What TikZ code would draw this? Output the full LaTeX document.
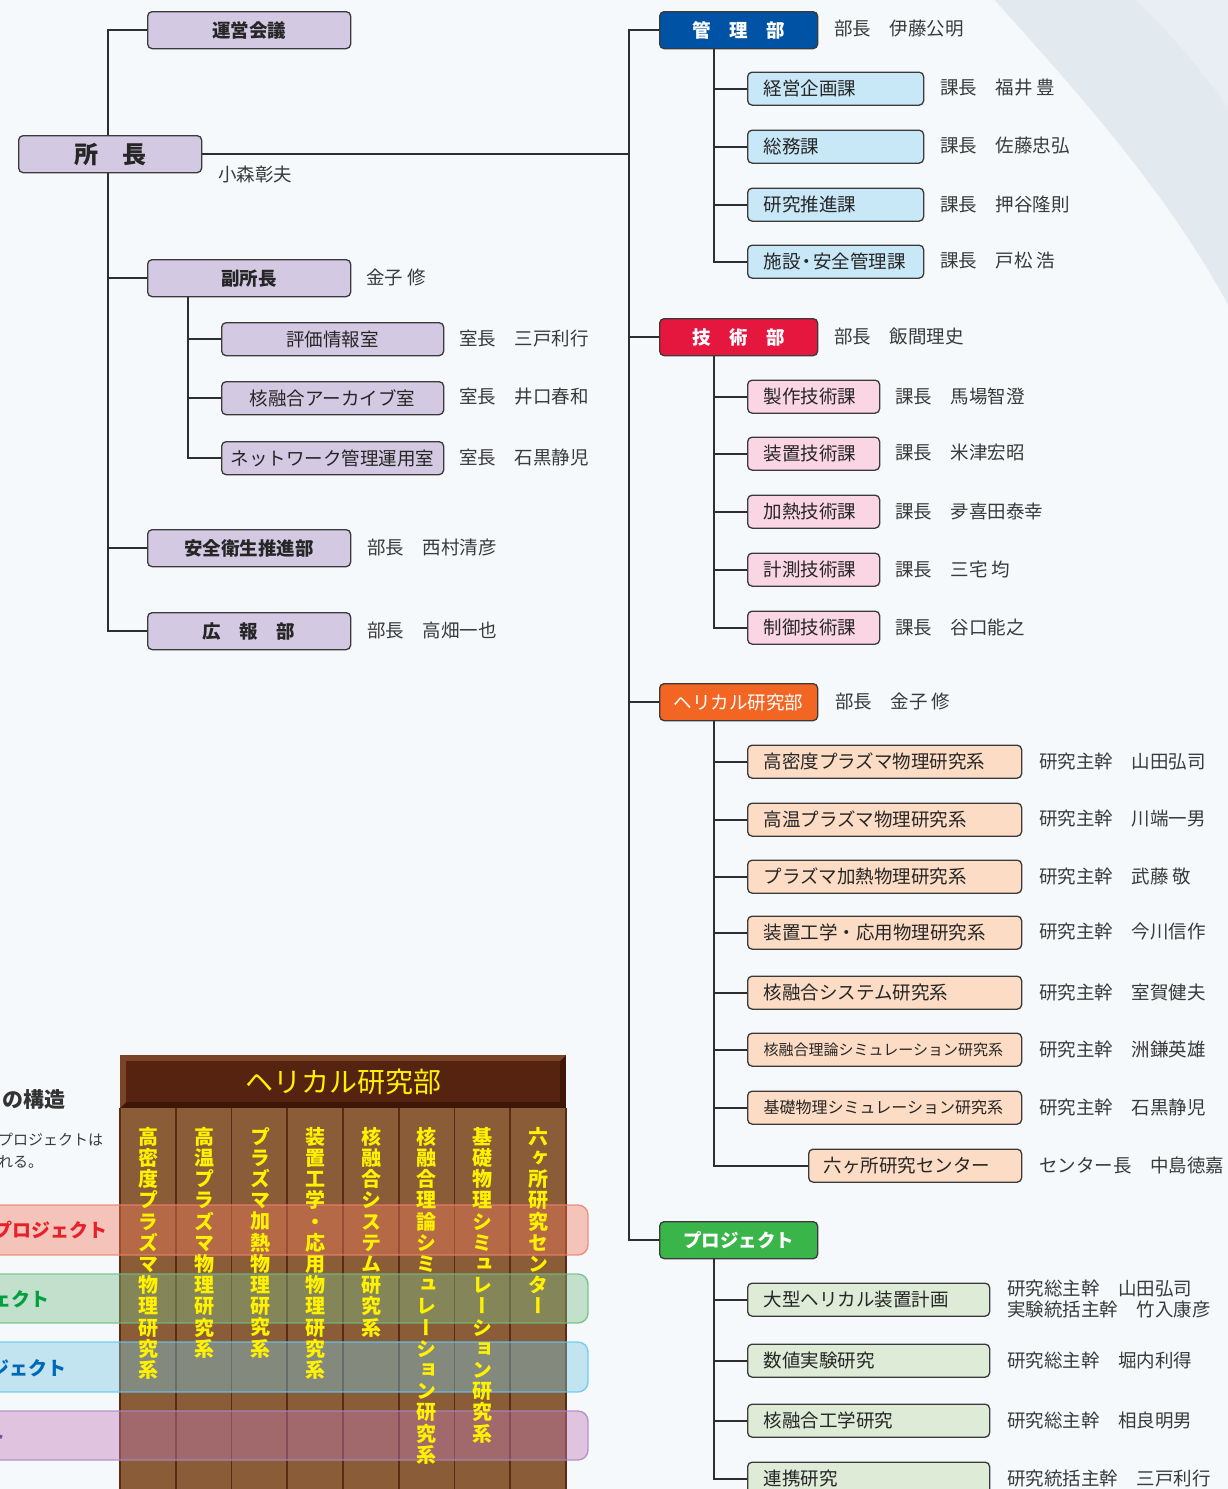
\documentclass[tikz,border=0pt]{standalone}
\usepackage{fontspec}
\setmainfont{Noto Sans CJK JP}
\newfontfamily\vjp{Noto Sans CJK JP}[RawFeature=+vert]
\usetikzlibrary{backgrounds,calc}
\newcommand\myfs[1]{\fontsize{#1}{#1}\selectfont}
\definecolor{bgc}{HTML}{F5F9FC}
\definecolor{swA}{HTML}{E2E9EF}
\definecolor{swB}{HTML}{E8EEF3}
\definecolor{linec}{HTML}{2E2E2E}
\definecolor{bord}{HTML}{3A3A3A}
\definecolor{namec}{HTML}{3A3A3A}
\definecolor{lav}{HTML}{D4C9E3}
\definecolor{kanric}{HTML}{0053A4}
\definecolor{gijc}{HTML}{E5173F}
\definecolor{helc}{HTML}{F26522}
\definecolor{projc}{HTML}{3AB54A}
\definecolor{lblue}{HTML}{C8E8F8}
\definecolor{lpink}{HTML}{FAD5E4}
\definecolor{lpeach}{HTML}{FCDCC4}
\definecolor{lgreen}{HTML}{DDEBD7}
\definecolor{hdrA}{HTML}{3F1709}
\definecolor{hdrB}{HTML}{7A4527}
\definecolor{hdrC}{HTML}{55230F}
\definecolor{colb}{HTML}{8A5C37}
\definecolor{divc}{HTML}{5A2C16}
\definecolor{yel}{HTML}{FFF100}
\definecolor{bandR}{RGB}{243,124,95}
\definecolor{bandG}{RGB}{124,190,136}
\definecolor{bandB}{RGB}{124,200,226}
\definecolor{bandP}{RGB}{195,124,183}
\definecolor{bordR}{RGB}{238,130,110}
\definecolor{bordG}{RGB}{110,190,130}
\definecolor{bordB}{RGB}{100,200,240}
\definecolor{bordP}{RGB}{170,135,195}
\definecolor{txR}{HTML}{E8202A}
\definecolor{txG}{HTML}{00A040}
\definecolor{txB}{HTML}{0068B7}
\definecolor{txP}{HTML}{7D4C9C}
\tikzset{
  base/.style={draw=bord, line width=1.3pt, rounded corners=4.5pt, inner sep=0pt, anchor=north west, font=\myfs{18.5}, text=black!85},
  lbox/.style={base, fill=lav, minimum width=203pt, minimum height=37pt, font=\myfs{18.5}\bfseries},
  lsub/.style={base, fill=lav, minimum width=222pt, minimum height=33pt},
  hbox/.style={base, minimum width=158pt, minimum height=37pt, text=white, font=\myfs{18.5}\bfseries},
  rsub/.style={base, inner xsep=16pt, inner ysep=0pt, minimum height=33pt, align=left, text width=#1},
  nm/.style={anchor=west, inner sep=0pt, text=namec, font=\myfs{18.5}},
  conn/.style={draw=linec, line width=2pt},
  vcol/.style={anchor=north, inner sep=0pt, align=center, text=yel, font=\vjp\bfseries\fontsize{20}{21.2}\selectfont},
  band/.style={fill opacity=0.42, line width=1.4pt, draw opacity=0.85, rounded corners=10pt},
}
\begin{document}
\begin{tikzpicture}[x=1pt,y=-1pt]
\useasboundingbox (0,0) rectangle (1227,1489);
% ---------- left tree ----------
\node[lbox] (unei) at (147,11) {運営会議};
\node[base, fill=lav, minimum width=183pt, minimum height=37pt, font=\myfs{24}\bfseries] (shocho) at (18,135) {所　長};
\node[nm] (shochoN) at (218,174) {小森彰夫};
\node[lbox] (fuku) at (147,259) {副所長};
\node[nm] (fukuN) at (366,277) {金子 修};
\node[lsub] (hyoka) at (221,322) {評価情報室};
\node[lsub] (archive) at (221,381) {核融合アーカイブ室};
\node[lsub] (network) at (221,441) {ネットワーク管理運用室};
\node[nm] (hyokaN) at (459,338) {室長　三戸利行};
\node[nm] (archiveN) at (459,397) {室長　井口春和};
\node[nm] (networkN) at (459,457) {室長　石黒静児};
\node[lbox] (anzen) at (147,529) {安全衛生推進部};
\node[nm] (anzenN) at (367,547) {部長　西村清彦};
\node[lbox] (kouhou) at (147,612) {広　報　部};
\node[nm] (kouhouN) at (367,630) {部長　高畑一也};
% ---------- right tree ----------
\node[hbox, fill=kanric] (kanri) at (659,11) {管　理　部};
\node[nm] (kanriN) at (834,29) {部長　伊藤公明};
\node[rsub=144pt, fill=lblue] (keiei) at (747,71.5) {経営企画課};
\node[rsub=144pt, fill=lblue] (soumu) at (747,129.5) {総務課};
\node[rsub=144pt, fill=lblue] (suishin) at (747,187.5) {研究推進課};
\node[rsub=144pt, fill=lblue] (shisetsu) at (747,244.5) {施設{\kern-3pt}・{\kern-3pt}安全管理課};
\node[nm] (keieiN) at (940,88) {課長　福井 豊};
\node[nm] (soumuN) at (940,146) {課長　佐藤忠弘};
\node[nm] (suishinN) at (940,204) {課長　押谷隆則};
\node[nm] (shisetsuN) at (940,261) {課長　戸松 浩};

\node[hbox, fill=gijc] (gijutsu) at (659,318) {技　術　部};
\node[nm] (gijutsuN) at (834,336) {部長　飯間理史};
\node[rsub=100pt, fill=lpink] (seisaku) at (747,379.5) {製作技術課};
\node[rsub=100pt, fill=lpink] (souchi) at (747,436.5) {装置技術課};
\node[rsub=100pt, fill=lpink] (kanetsu) at (747,494.5) {加熱技術課};
\node[rsub=100pt, fill=lpink] (keisoku) at (747,552.5) {計測技術課};
\node[rsub=100pt, fill=lpink] (seigyo) at (747,610.5) {制御技術課};
\node[nm] (seisakuN) at (895,396) {課長　馬場智澄};
\node[nm] (souchiN) at (895,453) {課長　米津宏昭};
\node[nm] (kanetsuN) at (895,511) {課長　夛喜田泰幸};
\node[nm] (keisokuN) at (895,569) {課長　三宅 均};
\node[nm] (seigyoN) at (895,627) {課長　谷口能之};

\node[hbox, fill=helc, font=\myfs{18.5}] (helical) at (659,683) {ヘリカル研究部};
\node[nm] (helicalN) at (835,701) {部長　金子 修};
\node[rsub=242pt, fill=lpeach] (h1) at (747,744.5) {高密度プラズマ物理研究系};
\node[rsub=242pt, fill=lpeach] (h2) at (747,802.5) {高温プラズマ物理研究系};
\node[rsub=242pt, fill=lpeach] (h3) at (747,859.5) {プラズマ加熱物理研究系};
\node[rsub=242pt, fill=lpeach] (h4) at (747,915.5) {装置工学・応用物理研究系};
\node[rsub=242pt, fill=lpeach] (h5) at (747,975.5) {核融合システム研究系};
\node[rsub=242pt, fill=lpeach, font=\myfs{15}] (h6) at (747,1032.5) {核融合理論シミュレーション研究系};
\node[rsub=242pt, fill=lpeach, font=\myfs{16}] (h7) at (747,1090.5) {基礎物理シミュレーション研究系};
\node[rsub=183pt, fill=lpeach, inner xsep=15pt] (rokkasho) at (808,1148.5) {六ヶ所研究センター};
\node[nm] (h1N) at (1039,761) {研究主幹　山田弘司};
\node[nm] (h2N) at (1039,819) {研究主幹　川端一男};
\node[nm] (h3N) at (1039,876) {研究主幹　武藤 敬};
\node[nm] (h4N) at (1039,932) {研究主幹　今川信作};
\node[nm] (h5N) at (1039,992) {研究主幹　室賀健夫};
\node[nm] (h6N) at (1039,1049) {研究主幹　洲鎌英雄};
\node[nm] (h7N) at (1039,1107) {研究主幹　石黒静児};
\node[nm] (rokkashoN) at (1039,1165) {センター長　中島徳嘉};

\node[hbox, fill=projc] (proj) at (659,1221) {プロジェクト};
\node[rsub=210pt, fill=lgreen] (p1) at (747,1282.5) {大型ヘリカル装置計画};
\node[rsub=210pt, fill=lgreen] (p2) at (747,1343.5) {数値実験研究};
\node[rsub=210pt, fill=lgreen] (p3) at (747,1403.5) {核融合工学研究};
\node[rsub=210pt, fill=lgreen] (p4) at (747,1461.5) {連携研究};
\node[nm, align=left, font=\fontsize{18.5}{21}\selectfont] (p1N) at (1007,1299) {研究総主幹　山田弘司\\実験統括主幹　竹入康彦};
\node[nm] (p2N) at (1007,1360) {研究総主幹　堀内利得};
\node[nm] (p3N) at (1007,1420) {研究総主幹　相良明男};
\node[nm] (p4N) at (1007,1478) {研究統括主幹　三戸利行};

% ---------- bottom-left matrix ----------
\fill[hdrA] (120,1055) rectangle (566,1108);
\fill[hdrB] (120,1055) -- (566,1055) -- (560,1061) -- (126,1061) -- (126,1102) -- (120,1108) -- cycle;
\fill[hdrC] (126,1061) rectangle (560,1102);
\node[inner sep=0pt, text=yel, font=\myfs{28}] (hdr) at (343,1082) {ヘリカル研究部};
\fill[colb] (120,1108) rectangle (566,1520);
\foreach \i in {0,...,8} \draw[divc, line width=1.6pt] ({120+\i*55.75},1108) -- ++(0,420);
\path[band, fill=bandR, draw=bordR] (-40,1205) rectangle (588,1255);
\path[band, fill=bandG, draw=bordG] (-40,1274) rectangle (588,1323);
\path[band, fill=bandB, draw=bordB] (-40,1342) rectangle (588,1392);
\path[band, fill=bandP, draw=bordP] (-40,1411) rectangle (588,1460);
\node[vcol] (c1) at (148.8,1127) {高\\密\\度\\プ\\ラ\\ズ\\マ\\物\\理\\研\\究\\系};
\node[vcol] (c2) at (204.4,1127) {高\\温\\プ\\ラ\\ズ\\マ\\物\\理\\研\\究\\系};
\node[vcol] (c3) at (260,1127) {プ\\ラ\\ズ\\マ\\加\\熱\\物\\理\\研\\究\\系};
\node[vcol] (c4) at (315.6,1127) {装\\置\\工\\学\\・\\応\\用\\物\\理\\研\\究\\系};
\node[vcol] (c5) at (371.3,1127) {核\\融\\合\\シ\\ス\\テ\\ム\\研\\究\\系};
\node[vcol] (c6) at (426.9,1127) {核\\融\\合\\理\\論\\シ\\ミ\\ュ\\レ\\ー\\シ\\ョ\\ン\\研\\究\\系};
\node[vcol] (c7) at (482.5,1127) {基\\礎\\物\\理\\シ\\ミ\\ュ\\レ\\ー\\シ\\ョ\\ン\\研\\究\\系};
\node[vcol] (c8) at (538.1,1127) {六\\ヶ\\所\\研\\究\\セ\\ン\\タ\\ー};
\node[anchor=west, inner sep=0pt, text=black!80, font=\myfs{21}\bfseries] (kouzo) at (2,1100) {の構造};
\node[anchor=west, inner sep=0pt, text=namec, font=\myfs{15}] (exp1) at (-2,1140) {プロジェクトは};
\node[anchor=west, inner sep=0pt, text=namec, font=\myfs{15}] (exp2) at (-2,1162) {れる。};
\node[anchor=east, inner sep=0pt, text=txR, font=\myfs{19}\bfseries] (bR) at (108,1230) {プロジェクト};
\node[anchor=east, inner sep=0pt, text=txG, font=\myfs{19}\bfseries] (bG) at (50,1299) {ジェクト};
\node[anchor=east, inner sep=0pt, text=txB, font=\myfs{19}\bfseries] (bB) at (67,1368) {ジェクト};
\node[anchor=east, inner sep=0pt, text=txP, font=\myfs{19}\bfseries] (bP) at (6,1436) {クト};

% ---------- connectors & background ----------
\coordinate (LT) at (108,0);
\coordinate (LS) at (188,0);
\coordinate (RT) at (629,0);
\coordinate (RS) at (714,0);
\begin{scope}[on background layer]
\fill[bgc] (-50,-10) rectangle (1260,1520);
\fill[swA] (990,-5) .. controls (1080,95) and (1170,195) .. (1232,312) -- (1232,-5) -- cycle;
\fill[swB] (1130,-5) .. controls (1170,30) and (1200,70) .. (1232,112) -- (1232,-5) -- cycle;
\draw[conn] (unei.west) -| (LT |- kouhou.west) -- (kouhou.west);
\draw[conn] (fuku.west) -- (fuku.west -| LT);
\draw[conn] (anzen.west) -- (anzen.west -| LT);
\draw[conn] (fuku.south -| LS) |- (network.west);
\draw[conn] (hyoka.west) -- (hyoka.west -| LS);
\draw[conn] (archive.west) -- (archive.west -| LS);
\draw[conn] (shocho.east) -- (shocho.east -| RT);
\draw[conn] (kanri.west) -| (RT |- proj.west) -- (proj.west);
\draw[conn] (gijutsu.west) -- (gijutsu.west -| RT);
\draw[conn] (helical.west) -- (helical.west -| RT);
\draw[conn] (kanri.south -| RS) |- (shisetsu.west);
\foreach \n in {keiei,soumu,suishin} \draw[conn] (\n.west) -- (\n.west -| RS);
\draw[conn] (gijutsu.south -| RS) |- (seigyo.west);
\foreach \n in {seisaku,souchi,kanetsu,keisoku} \draw[conn] (\n.west) -- (\n.west -| RS);
\draw[conn] (helical.south -| RS) |- (rokkasho.west);
\foreach \n in {h1,h2,h3,h4,h5,h6,h7} \draw[conn] (\n.west) -- (\n.west -| RS);
\draw[conn] (proj.south -| RS) |- (p4.west);
\foreach \n in {p1,p2,p3} \draw[conn] (\n.west) -- (\n.west -| RS);
\end{scope}
\end{tikzpicture}
\end{document}
